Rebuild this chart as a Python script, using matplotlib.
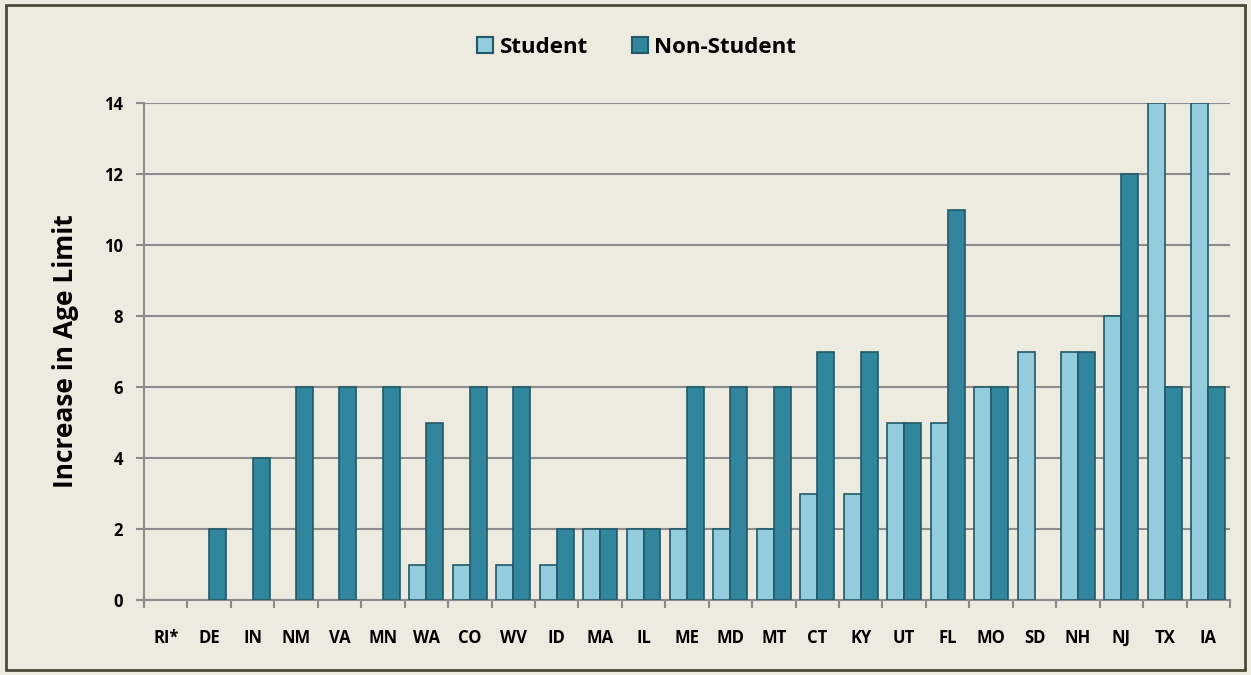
import numpy as np
import matplotlib.pyplot as plt
from matplotlib.patches import Rectangle

states = ["RI*", "DE", "IN", "NM", "VA", "MN", "WA", "CO", "WV", "ID", "MA", "IL", "ME",
          "MD", "MT", "CT", "KY", "UT", "FL", "MO", "SD", "NH", "NJ", "TX", "IA"]
student = [0, 0, 0, 0, 0, 0, 1, 1, 1, 1, 2, 2, 2, 2, 2, 3, 3, 5, 5, 6, 7, 7, 8, 14, 14]
non_student = [0, 2, 4, 6, 6, 6, 5, 6, 6, 2, 2, 2, 6, 6, 6, 7, 7, 5, 11, 6, 0, 7, 12, 6, 6]
y_ticks = [0, 2, 4, 6, 8, 10, 12, 14]

bg = "#EDEADF"
light = "#93CDDD"
dark = "#31859C"
edge = "#215968"
grid = "#8C8C8C"

plt.rcParams["font.family"] = ["Open Sans", "DejaVu Sans"]
plt.rcParams["font.weight"] = "bold"

fig = plt.figure(figsize=(12.51, 6.75), dpi=100, facecolor=bg)
ax = fig.add_axes([0.1151, 0.1111, 0.8681, 0.7363], facecolor=bg)

x = np.arange(len(states))
w = 0.39
s = np.array(student, dtype=float)
n = np.array(non_student, dtype=float)
s[s == 0] = np.nan
n[n == 0] = np.nan

ax.bar(x - w / 2, s, w, color=light, edgecolor=edge, linewidth=1.2, zorder=3, label="Student")
ax.bar(x + w / 2, n, w, color=dark, edgecolor=edge, linewidth=1.2, zorder=3, label="Non-Student")

ax.set_xlim(-0.5, len(states) - 0.5)
ax.set_ylim(0, 14)
ax.set_yticks(y_ticks)
ax.set_yticklabels([str(v) for v in y_ticks], fontsize=12, fontweight="bold")
ax.yaxis.grid(True, color=grid, linewidth=1.5, zorder=0)
ax.set_axisbelow(True)

# category labels centred, tick marks on boundaries
ax.set_xticks(x)
ax.set_xticklabels(states, fontsize=12, fontweight="bold")
ax.tick_params(axis="x", length=0, pad=21)
ax.set_xticks(np.arange(len(states) + 1) - 0.5, minor=True)
ax.tick_params(axis="x", which="minor", length=6, width=1.5, color=grid)
ax.tick_params(axis="y", length=6, width=1.5, color=grid, pad=9)

for side in ["top", "right"]:
    ax.spines[side].set_visible(False)
for side in ["left", "bottom"]:
    ax.spines[side].set_color(grid)
    ax.spines[side].set_linewidth(1.5)

ax.set_ylabel("Increase in Age Limit", fontsize=19, fontweight="bold", labelpad=18)

leg = fig.legend(loc="center", bbox_to_anchor=(0.509, 0.93), ncol=2, frameon=False,
                 prop={"size": 16, "weight": "bold"}, handlelength=0.7, handleheight=0.7,
                 handletextpad=0.3, columnspacing=2.0)
for h in leg.legend_handles:
    h.set_linewidth(1.5)

fig.patches.append(Rectangle((0.005, 0.008), 0.99, 0.984, transform=fig.transFigure,
                             fill=False, edgecolor="#4A4A38", linewidth=2))

fig.savefig("out.png", dpi=100, facecolor=bg)
